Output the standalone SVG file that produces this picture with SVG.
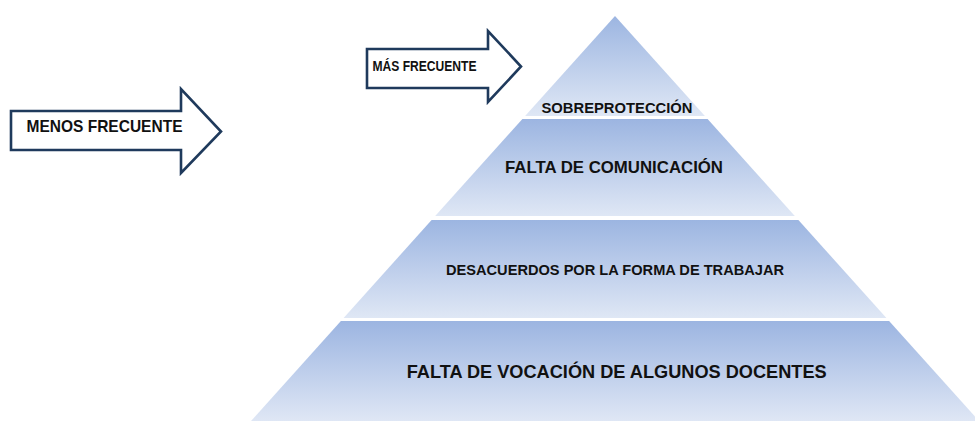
<svg xmlns="http://www.w3.org/2000/svg" width="975" height="421" viewBox="0 0 975 421">
  <defs>
    <linearGradient id="tierGrad" x1="0" y1="0" x2="0" y2="1">
      <stop offset="0" stop-color="#9cb5e1"/>
      <stop offset="1" stop-color="#dfe7f5"/>
    </linearGradient>
  </defs>
  <style>
    .tier { fill: url(#tierGrad); stroke: none; }
    .arrow { fill: #ffffff; stroke: #1f3a5c; stroke-width: 2.6; stroke-linejoin: miter; }
    .lbl { font-family: "Liberation Sans", Arial, sans-serif; font-weight: bold; fill: #111111; text-anchor: middle; }
  </style>
  <rect width="975" height="421" fill="#ffffff"/>

  <g id="arrow-menos">
    <polygon class="arrow" points="11,111 181,111 181,89 221,131.5 181,173 181,150 11,150"/>
    <text class="lbl" x="104.5" y="131.5" font-size="17" textLength="156" lengthAdjust="spacingAndGlyphs">MENOS FRECUENTE</text>
  </g>

  <g id="arrow-mas">
    <polygon class="arrow" points="367,49 488,49 488,31 521,66.5 488,102 488,88 367,88"/>
    <text class="lbl" x="424.5" y="71" font-size="14" textLength="104" lengthAdjust="spacingAndGlyphs">MÁS FRECUENTE</text>
  </g>

  <g id="tier-1">
    <polygon class="tier" points="615,16 704.9,116 525.1,116"/>
    <text class="lbl" x="617" y="113.3" font-size="14.5" textLength="151" lengthAdjust="spacingAndGlyphs">SOBREPROTECCIÓN</text>
  </g>

  <g id="tier-2">
    <polygon class="tier" points="522.4,119 707.6,119 794.8,216 435.2,216"/>
    <text class="lbl" x="614" y="173.3" font-size="17" textLength="218" lengthAdjust="spacingAndGlyphs">FALTA DE COMUNICACIÓN</text>
  </g>

  <g id="tier-3">
    <polygon class="tier" points="431.6,220 798.4,220 886.4,318 343.6,318"/>
    <text class="lbl" x="615" y="275" font-size="15" textLength="338" lengthAdjust="spacingAndGlyphs">DESACUERDOS POR LA FORMA DE TRABAJAR</text>
  </g>

  <g id="tier-4">
    <polygon class="tier" points="340.9,321 889.1,321 979,421 251,421"/>
    <text class="lbl" x="616.7" y="378" font-size="18.5" textLength="420" lengthAdjust="spacingAndGlyphs">FALTA DE VOCACIÓN  DE ALGUNOS  DOCENTES</text>
  </g>

  <g id="connectors"></g>
</svg>
